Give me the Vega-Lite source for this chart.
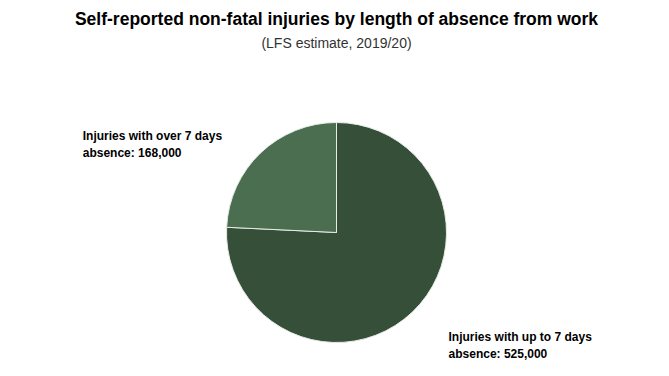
{
  "$schema": "https://vega.github.io/schema/vega-lite/v6.json",
  "width": 669,
  "height": 376,
  "autosize": {"type": "fit", "contains": "padding"},
  "padding": {"top": 10, "left": 4, "right": 0, "bottom": 0},
  "background": "white",
  "config": {"view": {"stroke": null}, "font": "Liberation Sans"},
  "title": {
    "text": "Self-reported non-fatal injuries by length of absence from work",
    "subtitle": "(LFS estimate, 2019/20)",
    "font": "Liberation Sans",
    "fontSize": 17.5,
    "fontWeight": "bold",
    "color": "#000000",
    "subtitleFont": "Liberation Sans",
    "subtitleFontSize": 14,
    "subtitleColor": "#333333",
    "subtitlePadding": 9,
    "anchor": "middle",
    "offset": 44,
    "dy": 6
  },
  "data": {
    "values": [
      {"category": "Injuries with up to 7 days absence", "value": 525000, "order": 1, "label": "Injuries with up to 7 days\nabsence: 525,000", "side": "right"},
      {"category": "Injuries with over 7 days absence", "value": 168000, "order": 2, "label": "Injuries with over 7 days\nabsence: 168,000", "side": "left"}
    ]
  },
  "transform": [
    {"stack": "value", "groupby": [], "sort": [{"field": "order", "order": "ascending"}], "as": ["v0", "v1"]},
    {"calculate": "(datum.v0 + datum.v1) / 2", "as": "vmid"}
  ],
  "layer": [
    {
      "mark": {"type": "arc", "outerRadius": 110, "stroke": "#e6ece6", "strokeWidth": 1},
      "encoding": {
        "theta": {"field": "v0", "type": "quantitative", "scale": {"domain": [0, 693000]}},
        "theta2": {"field": "v1"},
        "color": {
          "field": "category",
          "type": "nominal",
          "scale": {"domain": ["Injuries with up to 7 days absence", "Injuries with over 7 days absence"], "range": ["#354f38", "#4a6e4f"]},
          "legend": null
        }
      }
    },
    {
      "transform": [{"filter": "datum.side === 'left'"}],
      "mark": {"type": "text", "radius": 146, "dx": -153, "dy": 9, "align": "left", "baseline": "middle", "fontSize": 12, "fontWeight": "bold", "color": "#000000", "lineBreak": "\n", "lineHeight": 17},
      "encoding": {
        "theta": {"field": "vmid", "type": "quantitative"},
        "text": {"field": "label", "type": "nominal"}
      }
    },
    {
      "transform": [{"filter": "datum.side === 'right'"}],
      "mark": {"type": "text", "radius": 158, "dx": 3, "dy": -10, "align": "left", "baseline": "middle", "fontSize": 12, "fontWeight": "bold", "color": "#000000", "lineBreak": "\n", "lineHeight": 17},
      "encoding": {
        "theta": {"field": "vmid", "type": "quantitative"},
        "text": {"field": "label", "type": "nominal"}
      }
    }
  ]
}
